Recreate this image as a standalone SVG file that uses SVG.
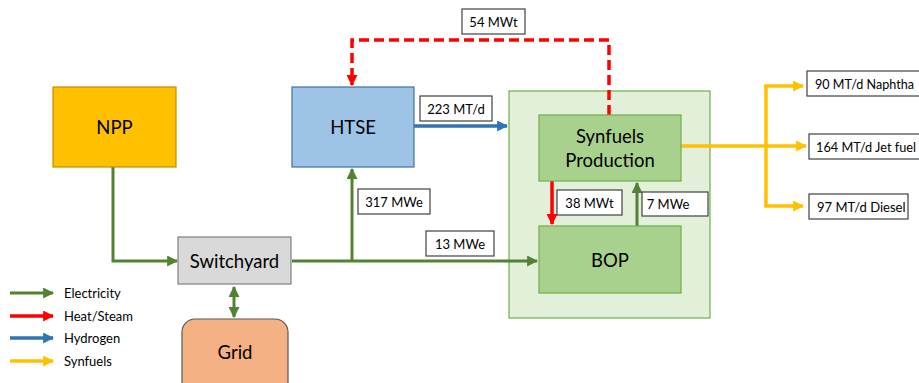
<svg xmlns="http://www.w3.org/2000/svg" width="919" height="383" viewBox="0 0 919 383">
  <style>
    text { font-family: Lato, "Open Sans", "Liberation Sans", sans-serif; fill: #000; }
    .node { font-size: 18.5px; text-anchor: middle; dominant-baseline: central; }
    .lbl { font-size: 13px; text-anchor: middle; dominant-baseline: central; }
    .lbl-l { font-size: 13px; dominant-baseline: central; }
    .leg { font-size: 13px; dominant-baseline: central; }
    .box { fill: #fff; stroke: #404040; stroke-width: 1.2; }
    .elec { stroke: #548235; stroke-width: 3; fill: none; }
    .heat { stroke: #ff0000; stroke-width: 3.5; fill: none; }
    .hyd { stroke: #2e75b6; stroke-width: 3.5; fill: none; }
    .fuel { stroke: #ffc000; stroke-width: 3.5; fill: none; }
    .dash { stroke-dasharray: 10 5; }
  </style>
  <defs>
    <marker id="ah-elec" viewBox="0 0 10 10" refX="9" refY="5" markerWidth="11" markerHeight="11" markerUnits="userSpaceOnUse" orient="auto-start-reverse">
      <path d="M0,0 L10,5 L0,10 Z" fill="#548235"/>
    </marker>
    <marker id="ah-heat" viewBox="0 0 10 10" refX="9" refY="5" markerWidth="11" markerHeight="11" markerUnits="userSpaceOnUse" orient="auto">
      <path d="M0,0 L10,5 L0,10 Z" fill="#ff0000"/>
    </marker>
    <marker id="ah-hyd" viewBox="0 0 10 10" refX="9" refY="5" markerWidth="11" markerHeight="11" markerUnits="userSpaceOnUse" orient="auto">
      <path d="M0,0 L10,5 L0,10 Z" fill="#2e75b6"/>
    </marker>
    <marker id="ah-fuel" viewBox="0 0 10 10" refX="9" refY="5" markerWidth="11" markerHeight="11" markerUnits="userSpaceOnUse" orient="auto">
      <path d="M0,0 L10,5 L0,10 Z" fill="#ffc000"/>
    </marker>
  </defs>

  <rect width="919" height="383" fill="#fff"/>

  <!-- synfuels plant enclosure -->
  <g id="plant">
    <rect x="509" y="91" width="201" height="227" fill="#e2f0d9" stroke="#70ad47" stroke-width="1.2"/>
  </g>

  <g id="connectors">
    <!-- electricity -->
    <path class="elec" d="M113,167 V261 H177" marker-end="url(#ah-elec)"/>
    <path class="elec" d="M292,261 H537" marker-end="url(#ah-elec)"/>
    <path class="elec" d="M352,261 V169" marker-end="url(#ah-elec)"/>
    <path class="elec" d="M234,287 V317" marker-start="url(#ah-elec)" marker-end="url(#ah-elec)"/>
    <path class="elec" d="M637,226 V183" marker-end="url(#ah-elec)"/>
    <!-- heat -->
    <path class="heat dash" d="M609,115 V40 H352 V85" marker-end="url(#ah-heat)"/>
    <path class="heat" d="M552,181 V224" marker-end="url(#ah-heat)"/>
    <!-- hydrogen -->
    <path class="hyd" d="M414,126 H507" marker-end="url(#ah-hyd)"/>
    <!-- synfuels -->
    <path class="fuel" d="M681,146 H806" marker-end="url(#ah-fuel)"/>
    <path class="fuel" d="M766,86 V206"/>
    <path class="fuel" d="M764.25,86 H803" marker-end="url(#ah-fuel)"/>
    <path class="fuel" d="M764.25,206 H803" marker-end="url(#ah-fuel)"/>
  </g>

  <g id="npp">
    <rect x="53" y="87" width="123" height="80" fill="#ffc000" stroke="#bf9000" stroke-width="1.2"/>
    <text class="node" x="114.5" y="127">NPP</text>
  </g>
  <g id="htse">
    <rect x="292" y="87" width="122" height="80" fill="#9dc3e6" stroke="#41719c" stroke-width="1.2"/>
    <text class="node" x="353" y="127">HTSE</text>
  </g>
  <g id="synfuels">
    <rect x="539" y="115" width="142" height="66" fill="#a9d18e" stroke="#70ad47" stroke-width="1.2"/>
    <text class="node" x="610" y="136">Synfuels</text>
    <text class="node" x="610" y="160">Production</text>
  </g>
  <g id="bop">
    <rect x="539" y="226" width="142" height="67" fill="#a9d18e" stroke="#70ad47" stroke-width="1.2"/>
    <text class="node" x="610" y="260">BOP</text>
  </g>
  <g id="switchyard">
    <rect x="178" y="237" width="113" height="47" fill="#d9d9d9" stroke="#7f7f7f" stroke-width="1.2"/>
    <text class="node" x="234.5" y="261">Switchyard</text>
  </g>
  <g id="grid">
    <rect x="182" y="319" width="106" height="80" rx="13" ry="13" fill="#f4b183" stroke="#595959" stroke-width="1.2"/>
    <text class="node" x="235" y="352">Grid</text>
  </g>

  <g id="labels">
    <g id="lbl-54"><rect class="box" x="462" y="9" width="63" height="25"/><text class="lbl" x="493.5" y="21.5">54 MWt</text></g>
    <g id="lbl-223"><rect class="box" x="420" y="96" width="72" height="25"/><text class="lbl" x="456" y="108.5">223 MT/d</text></g>
    <g id="lbl-317"><rect class="box" x="358" y="189" width="72" height="25"/><text class="lbl" x="394" y="201.5">317 MWe</text></g>
    <g id="lbl-13"><rect class="box" x="426" y="231" width="68" height="25"/><text class="lbl" x="460" y="243.5">13 MWe</text></g>
    <g id="lbl-38"><rect class="box" x="557" y="190" width="65" height="25"/><text class="lbl" x="589.5" y="202.5">38 MWt</text></g>
    <g id="lbl-7"><rect class="box" x="642" y="192" width="66" height="24"/><text class="lbl" x="668" y="204">7 MWe</text></g>
    <g id="lbl-naphtha"><rect class="box" x="807" y="71" width="116" height="25"/><text class="lbl-l" x="815" y="83.5" textLength="99" lengthAdjust="spacingAndGlyphs">90 MT/d Naphtha</text></g>
    <g id="lbl-jet"><rect class="box" x="809" y="134" width="114" height="25"/><text class="lbl-l" x="816" y="146.5" textLength="100" lengthAdjust="spacingAndGlyphs">164 MT/d Jet fuel</text></g>
    <g id="lbl-diesel"><rect class="box" x="809" y="194" width="99" height="25"/><text class="lbl-l" x="817" y="206.5">97 MT/d Diesel</text></g>
  </g>

  <g id="legend">
    <line class="elec" x1="10" y1="293" x2="53" y2="293" marker-end="url(#ah-elec)"/>
    <text class="leg" x="64" y="293">Electricity</text>
    <line class="heat" x1="10" y1="316" x2="53" y2="316" marker-end="url(#ah-heat)"/>
    <text class="leg" x="64" y="316">Heat/Steam</text>
    <line class="hyd" x1="10" y1="338" x2="53" y2="338" marker-end="url(#ah-hyd)"/>
    <text class="leg" x="64" y="338">Hydrogen</text>
    <line class="fuel" x1="10" y1="361" x2="53" y2="361" marker-end="url(#ah-fuel)"/>
    <text class="leg" x="64" y="361">Synfuels</text>
  </g>
</svg>
